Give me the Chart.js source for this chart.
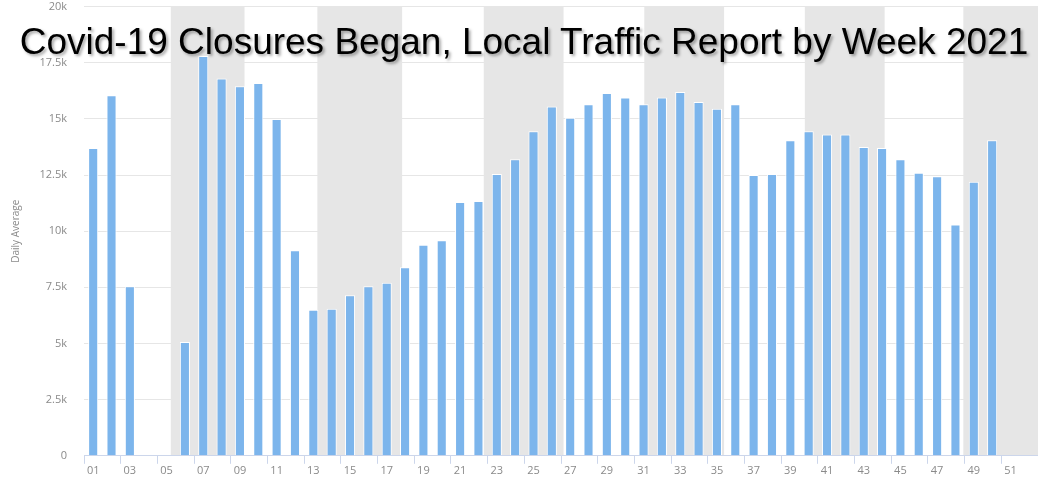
<!DOCTYPE html>
<html>
<head>
<meta charset="utf-8">
<script src="https://cdn.jsdelivr.net/npm/chart.js@4"></script>
<style>
  body { margin: 0; background: #fff; overflow: hidden; }
  #page { position: relative; width: 1038px; height: 483px; overflow: hidden; }
  #wrap { position: absolute; left: 0; top: -17px; width: 1038px; height: 499px; }
  #title {
    position: absolute; left: 10px; right: 0; top: 21px;
    text-align: center;
    font-family: "Liberation Sans", Arial, sans-serif;
    font-size: 37px; color: #000;
    text-shadow: 2px 2px 3px rgba(0,0,0,0.35);
    pointer-events: none; white-space: nowrap;
  }
</style>
</head>
<body>
<div id="page">
  <div id="wrap"><canvas id="trafficChart"></canvas></div>
  <div id="title">Covid-19 Closures Began, Local Traffic Report by Week 2021</div>
</div>
<script>
// week labels (only odd ones are shown)
const weeks = [
  '01','02','03','04','05','06','07','08','09','10','11','12','13',
  '14','15','16','17','18','19','20','21','22','23','24','25','26',
  '27','28','29','30','31','32','33','34','35','36','37','38','39',
  '40','41','42','43','44','45','46','47','48','49','50','51','52'
];

// daily average traffic per week
const dailyAverage = [
  13700, 16050, 7550, null, null, 5070, 17800, 16800, 16450, 16600, 15000, 9150, 6500,
  6550, 7150, 7550, 7700, 8400, 9400, 9600, 11300, 11350, 12550, 13200, 14450, 15550,
  15050, 15650, 16150, 15950, 15650, 15950, 16200, 15750, 15450, 15650, 12500, 12550, 14050,
  14450, 14300, 14300, 13750, 13700, 13200, 12600, 12450, 10300, 12200, 14050, null, null
];

// shaded month bands (Feb, Apr, Jun, Aug, Oct, Dec), in week units from the axis start
const bandStart = [4.73, 12.72, 21.79, 30.54, 39.29, 47.93];
const bandEnd   = [8.75, 17.34, 26.14, 34.89, 43.64, 52];

const monthBands = {
  id: 'monthBands',
  beforeDraw(chart) {
    const { ctx, chartArea, scales: { x } } = chart;
    const step = x.getPixelForValue(1) - x.getPixelForValue(0);
    const origin = x.getPixelForValue(0) - step / 2;
    ctx.save();
    ctx.fillStyle = '#e6e6e6';
    bandStart.forEach((s, i) => {
      const x0 = origin + s * step;
      const x1 = Math.min(origin + bandEnd[i] * step, chartArea.right);
      ctx.fillRect(x0, chartArea.top, x1 - x0, chartArea.bottom - chartArea.top);
    });
    ctx.restore();
  }
};

const tickFont = { family: 'Open Sans', size: 11 };

new Chart(document.getElementById('trafficChart').getContext('2d'), {
  type: 'bar',
  data: {
    labels: weeks,
    datasets: [{
      label: 'Daily Average',
      data: dailyAverage,
      backgroundColor: '#7cb5ec',
      borderColor: '#ffffff',
      borderWidth: 1,
      barPercentage: 0.55,
      categoryPercentage: 1
    }]
  },
  options: {
    responsive: true,
    maintainAspectRatio: false,
    animation: false,
    layout: { padding: { top: 0, right: 0, left: 0, bottom: 5 } },
    scales: {
      x: {
        grid: {
          drawOnChartArea: false,
          tickLength: 8,
          tickColor: c => (c.index % 2 === 0 ? '#ccd6eb' : 'rgba(0,0,0,0)')
        },
        border: { color: '#ccd6eb' },
        ticks: {
          autoSkip: false,
          maxRotation: 0,
          color: '#8a8a8a',
          font: tickFont,
          padding: 0,
          callback: (v, i) => (i % 2 === 0 ? weeks[i] : '')
        }
      },
      y: {
        min: 0,
        max: 20000,
        afterFit: s => { s.width = 84; },
        grid: { color: '#e6e6e6', drawTicks: false },
        border: { display: false },
        ticks: {
          stepSize: 2500,
          color: '#8a8a8a',
          font: tickFont,
          padding: 17,
          callback: v => (v === 0 ? '0' : v / 1000 + 'k')
        },
        title: {
          display: true,
          text: 'Daily Average',
          color: '#8a8a8a',
          font: { family: 'Open Sans', size: 10 },
          padding: { top: 10, bottom: 0 }
        }
      }
    },
    plugins: {
      legend: { display: false },
      tooltip: { enabled: false }
    }
  },
  plugins: [monthBands]
});
</script>
</body>
</html>
